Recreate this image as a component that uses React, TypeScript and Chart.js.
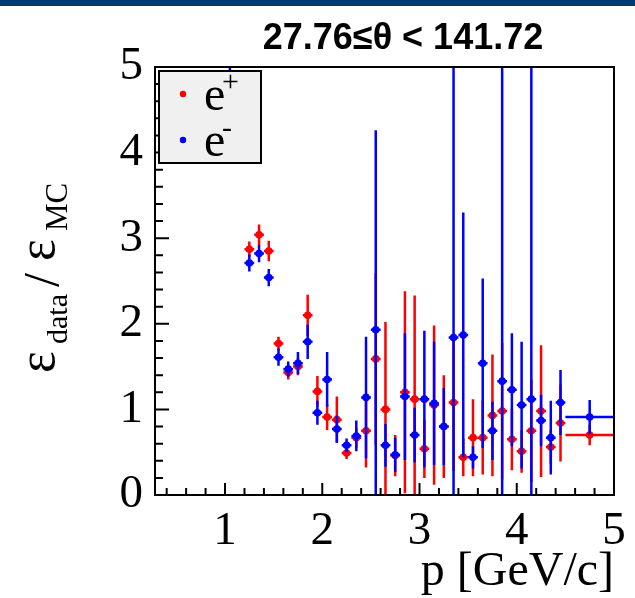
import React, { useEffect, useRef } from "react";
import { Chart, registerables } from "chart.js";

Chart.register(...registerables);

// ---- data ----
const momentum = [
  1.05, 1.25, 1.35, 1.45, 1.55, 1.65, 1.75, 1.85, 1.95, 2.05, 2.15,
  2.25, 2.35, 2.45, 2.55, 2.65, 2.75, 2.85, 2.95, 3.05, 3.15,
  3.25, 3.35, 3.45, 3.55, 3.65, 3.75, 3.85, 3.95, 4.05, 4.15,
  4.25, 4.35, 4.45, 4.75,
];
const binHalfWidth = [
  0.05, 0.05, 0.05, 0.05, 0.05, 0.05, 0.05, 0.05, 0.05, 0.05, 0.05,
  0.05, 0.05, 0.05, 0.05, 0.05, 0.05, 0.05, 0.05, 0.05, 0.05,
  0.05, 0.05, 0.05, 0.05, 0.05, 0.05, 0.05, 0.05, 0.05, 0.05,
  0.05, 0.05, 0.05, 0.25,
];
const ePlusRatio = [
  null, 2.87, 3.04, 2.85, 1.77, 1.43, 1.5, 2.1, 1.21, 0.91, 0.88,
  0.49, 0.67, 0.75, 1.59, 1.0, 0.46, 1.2, 1.12, 0.54, 1.05,
  0.8, 1.08, 0.44, 0.67, 0.67, 0.93, 0.98, 0.65, 0.51, 0.75,
  0.98, 0.56, 0.84, 0.7,
];
const ePlusError = [
  null, 0.09, 0.12, 0.12, 0.08, 0.08, 0.1, 0.24, 0.18, 0.15, 0.27,
  0.07, 0.12, 0.43, 1.0, 1.02, 0.24, 1.18, 1.21, 0.34, 0.93,
  0.6, 0.8, 0.22, 0.45, 0.43, 0.71, 0.8, 0.36, 0.25, 0.6,
  0.77, 0.2, 0.45, 0.12,
];
const eMinusRatio = [
  6.0, 2.71, 2.82, 2.54, 1.61, 1.47, 1.54, 1.79, 0.96, 1.35, 0.77,
  0.58, 0.69, 1.14, 1.93, 0.58, 0.47, 1.15, 0.7, 1.12, 1.07,
  0.8, 1.84, 1.87, 0.44, 1.54, 0.75, 1.33, 1.23, 1.05, 1.12,
  0.87, 0.67, 1.08, 0.91,
];
const eMinusError = [
  1.04, 0.1, 0.1, 0.1, 0.1, 0.09, 0.13, 0.2, 0.14, 0.32, 0.16,
  0.08, 0.18, 0.71, 2.33, 0.25, 0.2, 0.74, 0.32, 0.8, 0.72,
  0.45, 3.6, 1.43, 0.13, 0.99, 0.34, 3.8, 0.66, 0.74, 3.9,
  0.3, 0.43, 0.38, 0.2,
];
const xTickValues = [1, 2, 3, 4, 5];
const yTickValues = [0, 1, 2, 3, 4, 5];
const seriesLabels = ["e", "e"];
const seriesSup = ["+", "-"];
const titleText = "27.76\u2264\u03b8 < 141.72";
const xTitleText = "p [GeV/c]";

const SERIF = "'Liberation Serif', 'Times New Roman', serif";
const SANS = "'Liberation Sans', Arial, sans-serif";
const RED = "#ff0000";
const BLUE = "#0000ff";

function buildPoints(vals: (number | null)[], errs: (number | null)[]) {
  const pts: any[] = [];
  momentum.forEach((p, i) => {
    const v = vals[i];
    if (v === null || v === undefined) return;
    pts.push({ x: p, y: v, xErr: binHalfWidth[i], yErr: errs[i] ?? 0 });
  });
  return pts;
}

const errorBarPlugin = {
  id: "errorBars",
  beforeDatasetDraw(chart: any, args: any) {
    const ds = chart.data.datasets[args.index];
    const xs = chart.scales.x;
    const ys = chart.scales.y;
    const a = chart.chartArea;
    const ctx = chart.ctx;
    ctx.save();
    ctx.beginPath();
    ctx.rect(a.left, a.top, a.right - a.left, a.bottom - a.top);
    ctx.clip();
    ctx.strokeStyle = ds.borderColor;
    ctx.lineWidth = 2.5;
    ctx.lineCap = "butt";
    for (const pt of ds.data) {
      const px = xs.getPixelForValue(pt.x);
      const py = ys.getPixelForValue(pt.y);
      const x0 = xs.getPixelForValue(pt.x - pt.xErr);
      const x1 = xs.getPixelForValue(pt.x + pt.xErr);
      const y0 = ys.getPixelForValue(pt.y - pt.yErr);
      const y1 = ys.getPixelForValue(pt.y + pt.yErr);
      ctx.beginPath();
      ctx.moveTo(x0, py);
      ctx.lineTo(x1, py);
      ctx.moveTo(px, y0);
      ctx.lineTo(px, y1);
      ctx.stroke();
    }
    ctx.restore();
  },
};

const decorPlugin = {
  id: "decor",
  beforeDraw(chart: any) {
    const ctx = chart.ctx;
    ctx.save();
    ctx.fillStyle = "#ffffff";
    ctx.fillRect(0, 0, chart.width, chart.height);
    ctx.fillStyle = "#05386b";
    ctx.fillRect(0, 0, chart.width, 6);
    ctx.restore();
  },
  afterDraw(chart: any) {
    const ctx = chart.ctx;
    const a = chart.chartArea;
    const xs = chart.scales.x;
    const ys = chart.scales.y;
    ctx.save();

    // frame
    ctx.strokeStyle = "#000";
    ctx.lineWidth = 2;
    ctx.strokeRect(a.left, a.top, a.right - a.left, a.bottom - a.top);

    // ticks (inside, ROOT style)
    ctx.lineWidth = 2;
    ctx.beginPath();
    for (let k = Math.ceil(xs.min * 5); k <= Math.floor(xs.max * 5); k++) {
      const v = k / 5;
      const px = xs.getPixelForValue(v);
      const len = k % 5 === 0 ? 12 : 7;
      ctx.moveTo(px, a.bottom);
      ctx.lineTo(px, a.bottom - len);
    }
    for (let k = Math.ceil(ys.min * 5); k <= Math.floor(ys.max * 5); k++) {
      const v = k / 5;
      const py = ys.getPixelForValue(v);
      const len = k % 5 === 0 ? 14 : 8;
      ctx.moveTo(a.left, py);
      ctx.lineTo(a.left + len, py);
    }
    ctx.stroke();

    // title
    ctx.fillStyle = "#000";
    ctx.font = `bold 36px ${SANS}`;
    ctx.textAlign = "center";
    ctx.textBaseline = "alphabetic";
    ctx.fillText(titleText, 403, 49);

    // x axis title
    ctx.font = `48px ${SERIF}`;
    ctx.textAlign = "right";
    ctx.fillText(xTitleText, a.right, 585);

    // y axis title (rotated)
    ctx.save();
    ctx.rotate(-Math.PI / 2);
    ctx.textAlign = "left";
    const mainBase = 54;
    const subBase = 67;
    const pieces = [
      { t: "\u03b5", font: `52px ${SERIF}`, start: 373, base: mainBase },
      { t: "data", font: `30px ${SERIF}`, start: 344, base: subBase },
      { t: "/", font: `50px ${SERIF}`, start: 287, base: mainBase + 4 },
      { t: "\u03b5", font: `52px ${SERIF}`, start: 261, base: mainBase },
      { t: "MC", font: `31px ${SERIF}`, start: 231, base: subBase },
    ];
    for (const p of pieces) {
      ctx.font = p.font;
      ctx.fillText(p.t, -p.start, p.base);
    }
    ctx.restore();

    // legend
    const lx = 159, ly = 71, lw = 102, lh = 92;
    ctx.fillStyle = "#f0f0f0";
    ctx.fillRect(lx, ly, lw, lh);
    ctx.strokeStyle = "#000";
    ctx.lineWidth = 2;
    ctx.strokeRect(lx, ly, lw, lh);
    const colors = [RED, BLUE];
    const rowY = [94, 140];
    for (let i = 0; i < 2; i++) {
      ctx.fillStyle = colors[i];
      ctx.beginPath();
      ctx.arc(183, rowY[i], 3.2, 0, Math.PI * 2);
      ctx.fill();
      ctx.fillStyle = "#000";
      ctx.textAlign = "left";
      ctx.font = `48px ${SERIF}`;
      ctx.fillText(seriesLabels[i], 204, rowY[i] + 16);
      ctx.font = `30px ${SERIF}`;
      ctx.fillText(seriesSup[i], 222, rowY[i] - 3);
    }
    ctx.restore();
  },
};

export default function App() {
  const ref = useRef<HTMLCanvasElement>(null);
  useEffect(() => {
    document.body.style.margin = "0";
    const canvas = ref.current;
    if (!canvas) return;
    const chart = new Chart(canvas, {
      type: "scatter",
      data: {
        datasets: [
          {
            label: "e+",
            data: buildPoints(ePlusRatio, ePlusError),
            borderColor: RED,
            backgroundColor: RED,
            pointBackgroundColor: RED,
            pointBorderWidth: 0,
            pointRadius: 3.8,
            clip: 0,
            order: 2,
          } as any,
          {
            label: "e-",
            data: buildPoints(eMinusRatio, eMinusError),
            borderColor: BLUE,
            backgroundColor: BLUE,
            pointBackgroundColor: BLUE,
            pointBorderWidth: 0,
            pointRadius: 3.8,
            clip: 0,
            order: 1,
          } as any,
        ],
      },
      options: {
        animation: false,
        responsive: false,
        devicePixelRatio: 1,
        events: [],
        layout: { padding: { left: 0, top: 67, right: 21, bottom: 0 } },
        plugins: {
          legend: { display: false },
          title: { display: false },
          tooltip: { enabled: false },
        },
        scales: {
          x: {
            type: "linear",
            min: 0.28,
            max: 5,
            afterFit: (s: any) => {
              s.height = 103;
            },
            afterBuildTicks: (s: any) => {
              s.ticks = xTickValues.map((v) => ({ value: v }));
            },
            ticks: {
              font: { family: SERIF, size: 47 },
              color: "#000",
              padding: 0,
              maxRotation: 0,
              autoSkip: false,
            },
            grid: { display: false },
            border: { display: false },
          },
          y: {
            type: "linear",
            min: 0,
            max: 5,
            afterFit: (s: any) => {
              s.width = 155;
            },
            afterBuildTicks: (s: any) => {
              s.ticks = yTickValues.map((v) => ({ value: v }));
            },
            ticks: {
              font: { family: SERIF, size: 47 },
              color: "#000",
              padding: 4,
              autoSkip: false,
            },
            grid: { display: false },
            border: { display: false },
          },
        },
      } as any,
      plugins: [errorBarPlugin, decorPlugin],
    });
    return () => chart.destroy();
  }, []);
  return (
    <div style={{ position: "absolute", left: 0, top: 0, width: 635, height: 598, background: "#fff" }}>
      <canvas ref={ref} width={635} height={598} style={{ display: "block", width: 635, height: 598 }} />
    </div>
  );
}
